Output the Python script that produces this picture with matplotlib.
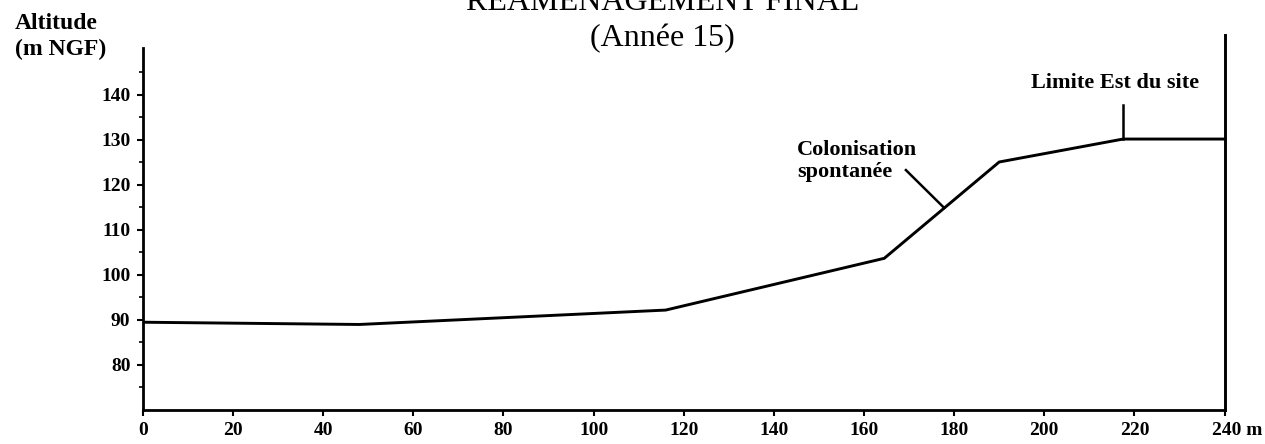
import matplotlib
matplotlib.use('Agg')
import matplotlib.pyplot as plt
import matplotlib.transforms as mtransforms

# profile of the final relief (distance in m, altitude in m NGF)
dist = [0, 48, 116, 164.5, 190, 217.5, 240]
alt = [89.5, 89.0, 92.2, 103.7, 125.1, 130.2, 130.2]

xticks = [0, 20, 40, 60, 80, 100, 120, 140, 160, 180, 200, 220, 240]
xlabels = ['0', '20', '40', '60', '80', '100', '120', '140', '160', '180', '200', '220', '240 m']
yticks = [80, 90, 100, 110, 120, 130, 140]

serif = ['Liberation Serif', 'DejaVu Serif']

fig = plt.figure(figsize=(12.65, 4.44), dpi=100)
ax = fig.add_axes([0.113, 0.0766, 0.855, 0.815])

ax.plot(dist, alt, color='black', lw=2.1, solid_joinstyle='miter')

# east limit of the site (vertical line going above the frame)
ax.plot([240, 240], [70, 153.3], color='black', lw=2.1, clip_on=False)

ax.set_xlim(0, 240)
ax.set_ylim(70, 150.4)
ax.spines['top'].set_visible(False)
ax.spines['right'].set_visible(False)
for s in ['left', 'bottom']:
    ax.spines[s].set_linewidth(2.0)

ax.set_xticks(xticks)
ax.set_xticklabels(xlabels, family=serif, fontweight='bold', fontsize=14)
ax.set_yticks(yticks)
ax.set_yticklabels([str(v) for v in yticks], family=serif, fontweight='bold', fontsize=14)
ax.set_yticks(range(75, 150, 5), minor=True)
ax.tick_params(axis='both', which='major', direction='out', length=4, width=1.5, pad=5)
ax.tick_params(axis='y', which='minor', direction='out', length=3, width=1.2)

# shift "240 m" so that "240" sits under its tick
last = ax.get_xticklabels()[-1]
last.set_transform(last.get_transform() + mtransforms.ScaledTranslation(0.13, 0, fig.dpi_scale_trans))

# annotations
ax.text(145.2, 125.3, 'Colonisation\nspontanée', family=serif, fontweight='bold', fontsize=16,
        ha='left', va='center', linespacing=1.15)
ax.plot([169.3, 177.8], [123.3, 114.9], color='black', lw=1.8)
ax.plot([217.5, 217.5], [130.2, 137.8], color='black', lw=1.8)
ax.text(234.4, 142.7, 'Limite Est du site', family=serif, fontweight='bold', fontsize=16,
        ha='right', va='center')

# axis title
fig.text(0.012, 0.917, 'Altitude\n(m NGF)', family=serif, fontweight='bold', fontsize=17,
         ha='left', va='center', linespacing=1.3)

# title (top line cut off by the frame, as in the original scan)
fig.text(0.524, 0.977, 'REAMENAGEMENT FINAL', family=serif, fontsize=23,
         ha='center', va='baseline')
fig.text(0.524, 0.912, '(Année 15)', family=serif, fontsize=23,
         ha='center', va='center')

fig.savefig('out.png', dpi=100)
